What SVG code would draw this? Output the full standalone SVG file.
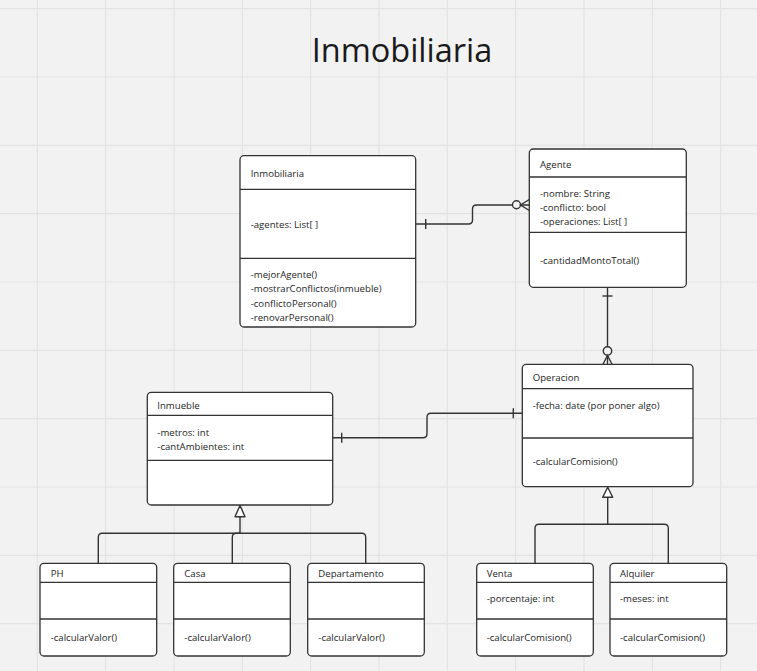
<svg xmlns="http://www.w3.org/2000/svg" width="757" height="671" viewBox="0 0 757 671">
<style>
.box{fill:#ffffff;stroke:#333333;stroke-width:1.3}
.div{stroke:#333333;stroke-width:1.3}
.t{font-family:"Open Sans","Liberation Sans",sans-serif;font-size:9.6px;fill:#262626}
.title{font-family:"Open Sans","Liberation Sans",sans-serif;font-size:32.5px;fill:#1a1a1a}
.c{fill:none;stroke:#333333;stroke-width:1.4}
.grid{stroke:#e3e3e3;stroke-width:1.2}
</style>
<rect width="757" height="671" fill="#f2f2f2"/>
<g id="grid" class="grid">
<line x1="37.3" y1="0" x2="37.3" y2="671"/><line x1="105.6" y1="0" x2="105.6" y2="671"/><line x1="174" y1="0" x2="174" y2="671"/><line x1="242.3" y1="0" x2="242.3" y2="671"/><line x1="310.6" y1="0" x2="310.6" y2="671"/><line x1="379" y1="0" x2="379" y2="671"/><line x1="447.3" y1="0" x2="447.3" y2="671"/><line x1="515.6" y1="0" x2="515.6" y2="671"/><line x1="584" y1="0" x2="584" y2="671"/><line x1="652.3" y1="0" x2="652.3" y2="671"/><line x1="720.6" y1="0" x2="720.6" y2="671"/>
<line x1="0" y1="8.7" x2="757" y2="8.7"/><line x1="0" y1="77" x2="757" y2="77"/><line x1="0" y1="145.4" x2="757" y2="145.4"/><line x1="0" y1="213.7" x2="757" y2="213.7"/><line x1="0" y1="282" x2="757" y2="282"/><line x1="0" y1="350.4" x2="757" y2="350.4"/><line x1="0" y1="418.7" x2="757" y2="418.7"/><line x1="0" y1="487" x2="757" y2="487"/><line x1="0" y1="555.4" x2="757" y2="555.4"/><line x1="0" y1="623.7" x2="757" y2="623.7"/>
</g>
<text class="title" x="402" y="61.7" text-anchor="middle">Inmobiliaria</text>
<g id="connectors">
<path class="c" d="M416 224 H468.5 Q472.5 224 472.5 220 V209 Q472.5 205 476.5 205 H529.3"/>
<line class="c" x1="425.7" y1="219" x2="425.7" y2="229"/>
<circle cx="516.5" cy="204.8" r="4" fill="#f2f2f2" stroke="#333333" stroke-width="1.4"/>
<path class="c" d="M529.3 199.5 L520.5 205 L529.3 210.5"/>
<line class="c" x1="607.5" y1="287.3" x2="607.5" y2="364.3"/>
<line class="c" x1="602.5" y1="296" x2="612.5" y2="296"/>
<circle cx="607.5" cy="351" r="4.2" fill="#f2f2f2" stroke="#333333" stroke-width="1.4"/>
<path class="c" d="M603 364.3 L607.5 355.5 L612 364.3"/>
<path class="c" d="M522.3 413.3 H431 Q427 413.3 427 417.3 V433.7 Q427 437.7 423 437.7 H332.7"/>
<line class="c" x1="513.3" y1="408.3" x2="513.3" y2="418.3"/>
<line class="c" x1="341.7" y1="432.7" x2="341.7" y2="442.7"/>
<path class="c" d="M98.3 563.3 V537.3 Q98.3 533.3 102.3 533.3 H361.7 Q365.7 533.3 365.7 537.3 V563.3"/>
<path class="c" d="M232.3 563.3 V537.3 Q232.3 533.3 236.3 533.3 H240"/>
<line class="c" x1="240" y1="533.3" x2="240" y2="516.7"/>
<polygon points="240,505.5 235,516.7 245,516.7" fill="#ffffff" stroke="#333333" stroke-width="1.4" stroke-linejoin="round"/>
<path class="c" d="M535 563.3 V528.3 Q535 524.3 539 524.3 H664.3 Q668.3 524.3 668.3 528.3 V563.3"/>
<line class="c" x1="607.7" y1="524.3" x2="607.7" y2="497.3"/>
<polygon points="607.7,487.2 602.7,497.3 612.7,497.3" fill="#ffffff" stroke="#333333" stroke-width="1.4" stroke-linejoin="round"/>
</g>
<g id="Inmobiliaria">
<rect class="box" x="240" y="155.7" width="175.7" height="171.3" rx="4"/>
<line class="div" x1="240" y1="189.3" x2="415.7" y2="189.3"/>
<line class="div" x1="240" y1="258.3" x2="415.7" y2="258.3"/>
<text class="t" x="250.7" y="177.3">Inmobiliaria</text>
<text class="t" x="250.7" y="228.3">-agentes: List[ ]</text>
<text class="t" x="250.7" y="278.3">-mejorAgente()</text>
<text class="t" x="250.7" y="292.4">-mostrarConflictos(inmueble)</text>
<text class="t" x="250.7" y="306.6">-conflictoPersonal()</text>
<text class="t" x="250.7" y="320.7">-renovarPersonal()</text>
</g>
<g id="Agente">
<rect class="box" x="529.3" y="149" width="157" height="138.3" rx="4"/>
<line class="div" x1="529.3" y1="177" x2="686.3" y2="177"/>
<line class="div" x1="529.3" y1="232.3" x2="686.3" y2="232.3"/>
<text class="t" x="540" y="168.3">Agente</text>
<text class="t" x="540" y="197.3">-nombre: String</text>
<text class="t" x="540" y="211">-conflicto: bool</text>
<text class="t" x="540" y="224.7">-operaciones: List[ ]</text>
<text class="t" x="540" y="264">-cantidadMontoTotal()</text>
</g>
<g id="Operacion">
<rect class="box" x="522.3" y="364.3" width="170.7" height="122.4" rx="4"/>
<line class="div" x1="522.3" y1="388.7" x2="693" y2="388.7"/>
<line class="div" x1="522.3" y1="438" x2="693" y2="438"/>
<text class="t" x="532.7" y="381">Operacion</text>
<text class="t" x="532.7" y="409.3">-fecha: date (por poner algo)</text>
<text class="t" x="532.7" y="465.3">-calcularComision()</text>
</g>
<g id="Inmueble">
<rect class="box" x="147.3" y="392.3" width="185.4" height="112.7" rx="4"/>
<line class="div" x1="147.3" y1="415.3" x2="332.7" y2="415.3"/>
<line class="div" x1="147.3" y1="460.3" x2="332.7" y2="460.3"/>
<text class="t" x="157.3" y="409">Inmueble</text>
<text class="t" x="157.3" y="436">-metros: int</text>
<text class="t" x="157.3" y="449.5">-cantAmbientes: int</text>
</g>
<g id="PH">
<rect class="box" x="40" y="563.3" width="116.7" height="92.7" rx="4"/>
<line class="div" x1="40" y1="582.3" x2="156.7" y2="582.3"/>
<line class="div" x1="40" y1="619" x2="156.7" y2="619"/>
<text class="t" x="50.7" y="577.3">PH</text>
<text class="t" x="50.7" y="640.7">-calcularValor()</text>
</g>
<g id="Casa">
<rect class="box" x="173.7" y="563.3" width="116.6" height="92.7" rx="4"/>
<line class="div" x1="173.7" y1="582.3" x2="290.3" y2="582.3"/>
<line class="div" x1="173.7" y1="619" x2="290.3" y2="619"/>
<text class="t" x="184.3" y="577.3">Casa</text>
<text class="t" x="184.3" y="640.7">-calcularValor()</text>
</g>
<g id="Departamento">
<rect class="box" x="307.7" y="563.3" width="116.6" height="92.7" rx="4"/>
<line class="div" x1="307.7" y1="582.3" x2="424.3" y2="582.3"/>
<line class="div" x1="307.7" y1="619" x2="424.3" y2="619"/>
<text class="t" x="318.3" y="577.3">Departamento</text>
<text class="t" x="318.3" y="640.7">-calcularValor()</text>
</g>
<g id="Venta">
<rect class="box" x="476.7" y="563.3" width="116.6" height="92.7" rx="4"/>
<line class="div" x1="476.7" y1="582.3" x2="593.3" y2="582.3"/>
<line class="div" x1="476.7" y1="619" x2="593.3" y2="619"/>
<text class="t" x="486.7" y="577.3">Venta</text>
<text class="t" x="486.7" y="601.7">-porcentaje: int</text>
<text class="t" x="486.7" y="640.7">-calcularComision()</text>
</g>
<g id="Alquiler">
<rect class="box" x="610" y="563.3" width="116.7" height="92.7" rx="4"/>
<line class="div" x1="610" y1="582.3" x2="726.7" y2="582.3"/>
<line class="div" x1="610" y1="619" x2="726.7" y2="619"/>
<text class="t" x="620" y="577.3">Alquiler</text>
<text class="t" x="620" y="601.7">-meses: int</text>
<text class="t" x="620" y="640.7">-calcularComision()</text>
</g>
</svg>
